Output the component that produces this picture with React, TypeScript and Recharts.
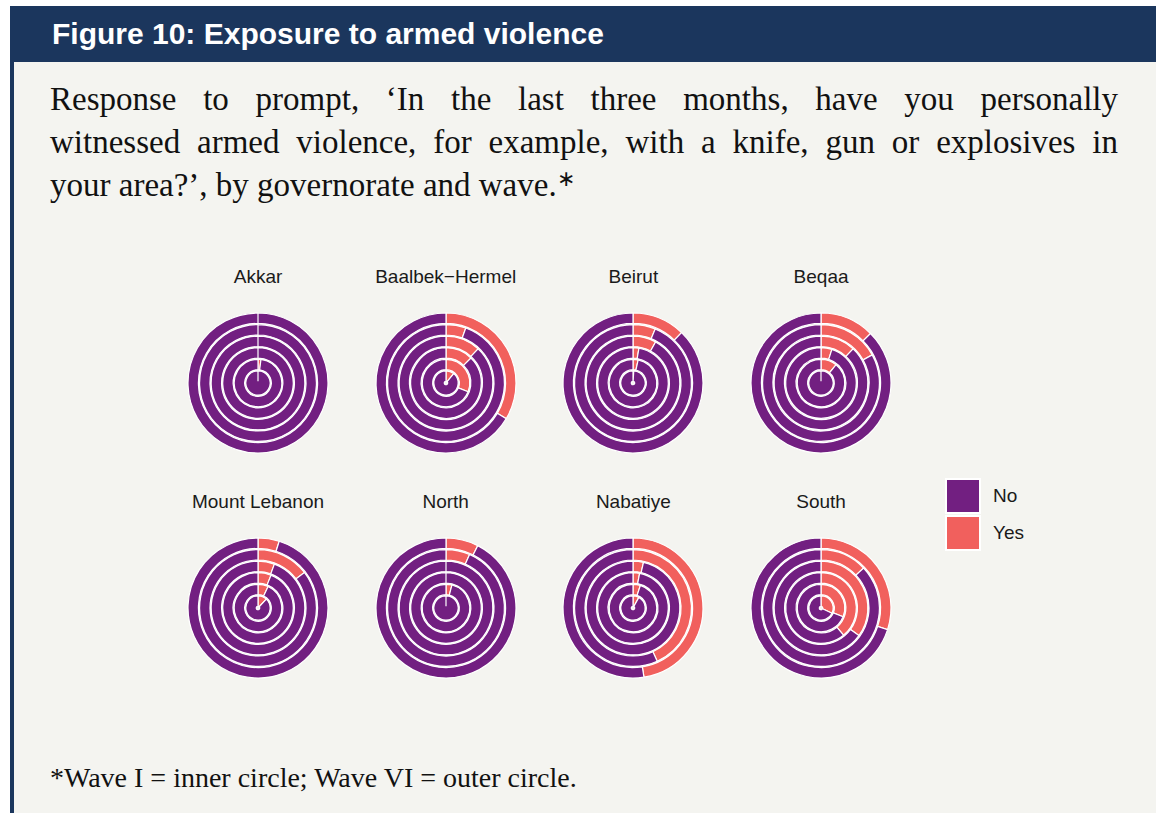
import { PieChart, Pie, Cell } from "recharts";

const NO_COLOR = "#721F81";
const YES_COLOR = "#F1605D";
const NAVY = "#1b365d";
const BG = "#f4f4f0";

const governorates = [
  "Akkar",
  "Baalbek−Hermel",
  "Beirut",
  "Beqaa",
  "Mount Lebanon",
  "North",
  "Nabatiye",
  "South",
];

// share answering "Yes", wave I (inner) → wave VI (outer)
const akkarYes = [0, 0.02, 0, 0, 0, 0];
const baalbekYes = [0.11, 0.31, 0.125, 0.12, 0.055, 0.335];
const beirutYes = [0.01, 0.035, 0.027, 0.08, 0.062, 0.122];
const beqaaYes = [0, 0.11, 0.05, 0.12, 0.17, 0.125];
const mountLebanonYes = [0.12, 0.07, 0.06, 0.057, 0.146, 0.049];
const northYes = [0, 0.04, 0, 0, 0.066, 0.075];
const nabatiyeYes = [0.08, 0.05, 0.03, 0.036, 0.432, 0.475];
const southYes = [0.32, 0.31, 0.39, 0.35, 0.13, 0.3];

const yesByGov = [
  akkarYes,
  baalbekYes,
  beirutYes,
  beqaaYes,
  mountLebanonYes,
  northYes,
  nabatiyeYes,
  southYes,
];

const legendItems = [
  { label: "No", color: NO_COLOR },
  { label: "Yes", color: YES_COLOR },
];

const OUTER = 70;
const step = OUTER / 6.05;
const SIZE = 188;

const Donut = ({ name, yes }: { name: string; yes: number[] }) => (
  <div style={{ width: SIZE }}>
    <div
      style={{
        height: 24,
        lineHeight: "24px",
        textAlign: "center",
        fontSize: 19,
        color: "#1a1a1a",
        fontFamily: "'Liberation Sans', Arial, sans-serif",
      }}
    >
      {name}
    </div>
    <PieChart width={SIZE} height={SIZE} margin={{ top: 0, right: 0, bottom: 0, left: 0 }}>
      {yes.map((y, i) => (
        <Pie
          key={i}
          data={[
            { name: "Yes", value: y },
            { name: "No", value: 1 - y },
          ]}
          dataKey="value"
          cx={SIZE / 2}
          cy={SIZE / 2}
          innerRadius={(i + 1 - 0.85) * step}
          outerRadius={(i + 1 + 0.05) * step}
          startAngle={90}
          endAngle={-270}
          stroke="#ffffff"
          strokeWidth={1.2}
          isAnimationActive={false}
        >
          <Cell fill={YES_COLOR} />
          <Cell fill={NO_COLOR} />
        </Pie>
      ))}
    </PieChart>
  </div>
);

const App = () => (
  <div
    style={{
      position: "absolute",
      left: 0,
      top: 0,
      width: 1156,
      height: 813,
      background: "#ffffff",
      overflow: "hidden",
    }}
  >
    <div
      style={{
        position: "absolute",
        left: 10,
        top: 6,
        width: 1146,
        height: 807,
        background: BG,
        borderLeft: `4px solid ${NAVY}`,
        boxSizing: "border-box",
      }}
    />
    <div
      style={{
        position: "absolute",
        left: 10,
        top: 6,
        width: 1146,
        height: 56,
        background: NAVY,
        color: "#ffffff",
        fontFamily: "'Liberation Sans', Arial, sans-serif",
        fontWeight: 700,
        fontSize: 30,
        lineHeight: "56px",
        paddingLeft: 42,
        boxSizing: "border-box",
      }}
    >
      Figure 10: Exposure to armed violence
    </div>

    <div
      style={{
        position: "absolute",
        left: 50,
        top: 78,
        width: 1068,
        fontFamily: "'Liberation Serif', 'Times New Roman', serif",
        fontSize: 33,
        lineHeight: "43px",
        color: "#111111",
      }}
    >
      <div style={{ textAlign: "justify", textAlignLast: "justify" }}>
        Response to prompt, ‘In the last three months, have you personally
      </div>
      <div style={{ textAlign: "justify", textAlignLast: "justify" }}>
        witnessed armed violence, for example, with a knife, gun or explosives in
      </div>
      <div style={{ height: 43 }}>
        your area?’, by governorate and wave.
        <span style={{ fontSize: 22, lineHeight: 0, position: "relative", top: -10 }}>∗</span>
      </div>
    </div>

    {governorates.map((g, i) => (
      <div
        key={g}
        style={{
          position: "absolute",
          left: 164 + (i % 4) * 187.7,
          top: 265 + Math.floor(i / 4) * 225,
        }}
      >
        <Donut name={g} yes={yesByGov[i]} />
      </div>
    ))}

    <div
      style={{
        position: "absolute",
        left: 945,
        top: 477,
        fontFamily: "'Liberation Sans', Arial, sans-serif",
        fontSize: 19,
        color: "#1a1a1a",
      }}
    >
      {legendItems.map((it) => (
        <div key={it.label} style={{ display: "flex", alignItems: "center", height: 37 }}>
          <div
            style={{
              width: 32,
              height: 32,
              background: it.color,
              border: "2px solid #ffffff",
            }}
          />
          <span style={{ marginLeft: 12 }}>{it.label}</span>
        </div>
      ))}
    </div>

    <div
      style={{
        position: "absolute",
        left: 50,
        top: 760,
        fontFamily: "'Liberation Serif', 'Times New Roman', serif",
        fontSize: 28,
        lineHeight: "36px",
        color: "#111111",
      }}
    >
      *Wave I = inner circle; Wave VI = outer circle.
    </div>
  </div>
);

export default App;
